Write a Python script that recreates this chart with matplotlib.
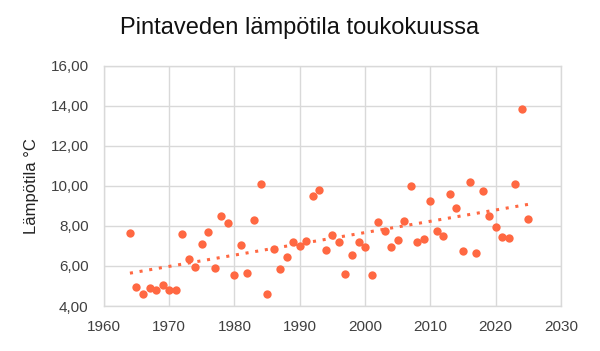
import numpy as np
import matplotlib
matplotlib.use("Agg")
import matplotlib.pyplot as plt
from matplotlib.ticker import FuncFormatter

years = [1964, 1965, 1966, 1967, 1968, 1969, 1970, 1971, 1972, 1973, 1974, 1975,
         1976, 1977, 1978, 1979, 1980, 1981, 1982, 1983, 1984, 1985, 1986, 1987,
         1988, 1989, 1990, 1991, 1992, 1993, 1994, 1995, 1996, 1997, 1998, 1999,
         2000, 2001, 2002, 2003, 2004, 2005, 2006, 2007, 2008, 2009, 2010, 2011,
         2012, 2013, 2014, 2015, 2016, 2017, 2018, 2019, 2020, 2021, 2022, 2023,
         2024, 2025]
temps = [7.63, 4.97, 4.58, 4.90, 4.80, 5.05, 4.80, 4.80, 7.62, 6.37, 5.93, 7.12,
         7.72, 5.90, 8.52, 8.17, 5.53, 7.03, 5.65, 8.28, 10.10, 4.58, 6.83, 5.85,
         6.47, 7.18, 7.02, 7.27, 9.50, 9.78, 6.78, 7.57, 7.22, 5.60, 6.57, 7.20,
         6.97, 5.57, 8.20, 7.77, 6.97, 7.28, 8.27, 9.97, 7.18, 7.37, 9.22, 7.75,
         7.48, 9.60, 8.87, 6.77, 10.18, 6.65, 9.75, 8.50, 7.93, 7.43, 7.42, 10.10,
         13.85, 8.37]

title = "Pintaveden lämpötila toukokuussa"
ylabel = "Lämpötila °C"
color = "#FF6842"

plt.rcParams['font.family'] = ['Liberation Sans', 'DejaVu Sans']

fig = plt.figure(figsize=(6, 3.51), dpi=100)
ax = fig.add_axes([0.173, 0.128, 0.762, 0.685])

x = np.array(years, dtype=float)
y = np.array(temps)
ax.scatter(x, y, s=36, color=color, zorder=3, linewidths=0)

k, b = np.polyfit(x, y, 1)
xt = np.array([x.min(), x.max()])
ax.plot(xt, k * xt + b, linestyle=(0, (1, 2.2)), color=color, linewidth=2.2, zorder=2)

ax.set_xlim(1960, 2030)
ax.set_ylim(4, 16)
ax.set_xticks(np.arange(1960, 2031, 10))
ax.set_yticks(np.arange(4, 16.01, 2))
ax.yaxis.set_major_formatter(FuncFormatter(lambda v, p: f"{v:.2f}".replace(".", ",")))

ax.grid(True, color="#d9d9d9", linewidth=1)
ax.set_axisbelow(True)
for s in ax.spines.values():
    s.set_color("#d9d9d9")
    s.set_linewidth(1)
ax.tick_params(length=0, labelsize=11, colors="#404040", pad=10)
ax.tick_params(axis='y', pad=11)

ax.set_ylabel(ylabel, fontsize=12, color="#222222", labelpad=8)
fig.text(0.5, 0.92, title, ha="center", va="center", fontsize=17, color="#111111")

fig.savefig("out.png", dpi=100)
